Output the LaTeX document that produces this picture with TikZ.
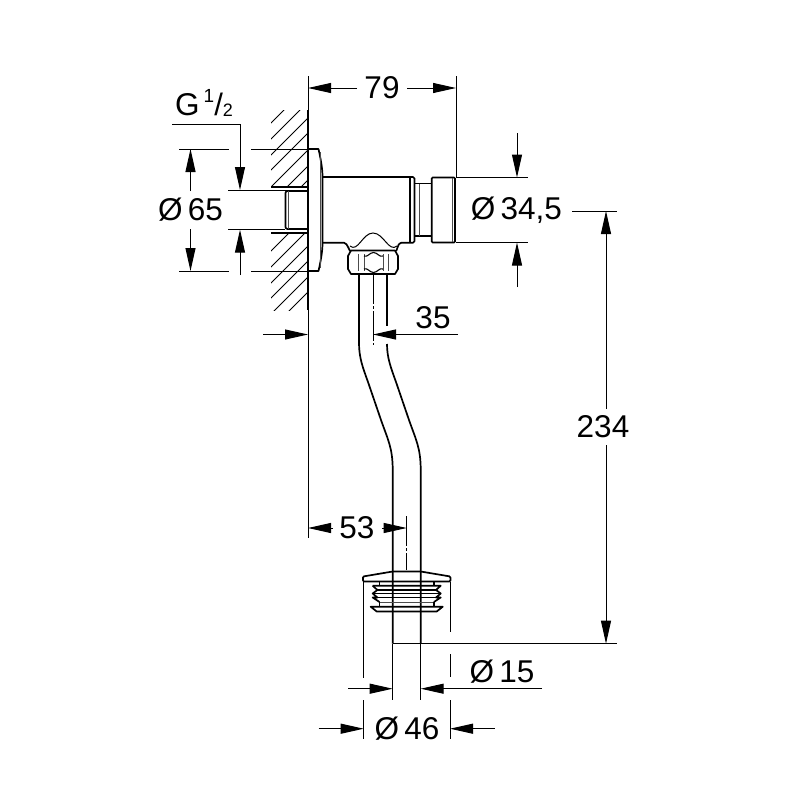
\documentclass[tikz,border=0pt]{standalone}
\usepackage{fontspec}
\setmainfont{Liberation Sans}
\usetikzlibrary{arrows.meta}

\begin{document}
\begin{tikzpicture}[x=1pt,y=-1pt,>={Triangle[length=23pt,width=10pt]}]
        \tikzset{part/.style={line width=1.7pt,line join=round},
        fine/.style={line width=0.9pt,black!70},
        dim/.style={line width=1pt},
        hatch/.style={line width=0.9pt},
        center/.style={line width=1pt,dash pattern=on 30pt off 2pt on 3pt off 2pt},
        lbl/.style={inner sep=0pt,font=\fontsize{31.5}{34}\selectfont},
        }
        \useasboundingbox (0,0) rectangle (800,800);
%%% wall
        \begin{scope}
        \clip (271,110) rectangle (308,187);
        \foreach \s in {394,410,426,441,458,474,488}
            \draw[hatch] (\s-320,320) -- (\s-100,100);
        \end{scope}
        \begin{scope}
        \clip (271,234) rectangle (308,310);
        \foreach \s in {522,538,554,569,585,600}
            \draw[hatch] (\s-320,320) -- (\s-220,220);
        \end{scope}
        \draw[line width=1.3pt] (308,110) -- (308,310);
        \draw[part] (271,187) -- (308,187) (271,233) -- (308,233);
%%% plate, body and knob
        \draw[part] (308,149) -- (318.5,149) .. controls (320.5,158) and (322.5,168) .. (322.5,177) -- (322.5,243) .. controls (322.5,252) and (320.5,262) .. (318.5,271) -- (308,271);
        \draw[fine] (320,152) -- (320,268);
        \draw[part,rounded corners=1.5pt] (322.5,177) -- (414.5,177) -- (414.5,242.7) -- (401,242.7);
        \draw[part] (322.5,242.7) -- (344,242.7) to[out=0,in=-100] (350.5,250);
        \draw[part] (401,242.7) to[out=180,in=-80] (396,250);
        \draw[line width=1.2pt] (410,177) -- (410,242.7);
        \draw[part] (415,183.5) -- (431.7,183.5) (415,236) -- (431.7,236);
        \draw[fine] (419,184) -- (419,236);
        \draw[part,rounded corners=1pt] (431.7,177.5) rectangle (455,242.5);
        \draw[fine] (452.5,178) -- (452.5,242);
%%% thread
        \draw[part,rounded corners=2pt] (308,191) -- (285.5,191) -- (285.5,229) -- (308,229);
        \draw[fine] (288.5,191) -- (288.5,229);
%%% nut
        \draw[line width=1pt] (350,246) to[out=-40,in=180] (373,233) to[out=0,in=-140] (397,246);
        \draw[part] (351,250.5) -- (395,250.5) -- (398,256) -- (398,269) -- (395,274) -- (351,274) -- (348,269) -- (348,256) -- cycle;
        \draw[fine] (358,254) -- (358,271) (364,254) -- (364,271) (383,254) -- (383,271) (388,254) -- (388,271);
        \draw[line width=1.1pt] (364,256) to[out=-25,in=180] (373.5,252.5) to[out=0,in=-155] (383,256);
        \draw[line width=1.1pt] (364,269) to[out=25,in=180] (373.5,272.5) to[out=0,in=155] (383,269);
%%% pipe
        \draw[part] (359,274) -- (359,343) .. controls (359,358) and (363,368) .. (368,382) -- (381,420) .. controls (388,440) and (392.7,448) .. (392.7,470) -- (392.7,643.7);
        \draw[part] (387,274) -- (387,326);
        \draw[part] (387,344) .. controls (387,358) and (391,368) .. (396,382) -- (409,420) .. controls (416,440) and (420.7,448) .. (420.7,470) -- (420.7,643.7);
        \draw[center] (373,274) -- (373,345);
        \draw[center] (406.7,516) -- (406.7,570);
%%% flange
        \draw[part,rounded corners=1pt] (363,581.5) -- (363,576.5) -- (392.7,571.5) -- (420.7,571.5) -- (450.4,576.5) -- (450.4,581.5) -- cycle;
        \draw[part] (379.5,582) -- (379.5,585.7) (433.9,582) -- (433.9,585.7);
        \draw[part] (372.7,585.7) -- (440.7,585.7) -- (436,590) -- (440.7,593.5) -- (436,597.5) -- (440.7,597.5) -- (433.9,602);
        \draw[part] (372.7,585.7) -- (377.4,590) -- (372.7,593.5) -- (377.4,597.5) -- (372.7,597.5) -- (379.5,602);
        \draw[part] (377.4,590) -- (436,590) (372.7,593.5) -- (440.7,593.5) (372.7,597.5) -- (440.7,597.5);
        \draw[fine] (379.5,602) -- (433.9,602);
        \draw[part] (379.5,602) -- (379.5,606.7) (433.9,602) -- (433.9,606.7);
        \draw[part] (370.7,606.7) -- (442.7,606.7) -- (436.7,611.5) -- (376.7,611.5) -- cycle;
%%% extension lines
        \draw[dim] (308,76) -- (308,538);
        \draw[dim] (456,76) -- (456,177.5);
        \draw[dim] (456,177.5) -- (528,177.5) (456,242.5) -- (528,242.5);
        \draw[dim] (179,149) -- (229,149) (251,149) -- (308,149);
        \draw[dim] (179,271) -- (229,271) (251,271) -- (308,271);
        \draw[dim] (228,190) -- (308,190) (228,229.7) -- (285,229.7);
        \draw[dim] (392.7,643.7) -- (617,643.7);
        \draw[dim] (572,211) -- (617,211);
        \draw[dim] (392.7,643.7) -- (392.7,700) (420.7,643.7) -- (420.7,700);
        \draw[dim] (363.7,582) -- (363.7,678) (363.7,700) -- (363.7,739);
        \draw[dim] (450,582) -- (450,632) (450,654) -- (450,677) (450,700) -- (450,739);
%%% labels
        \node[lbl] (w79) at (382,88) {79};
        \node[lbl] (d65) at (190.5,210) {Ø\,65};
        \node[lbl] (d345) at (516.5,210) {Ø\,34,5};
        \node[lbl] (l35) at (433,318) {35};
        \node[lbl] (h234) at (603,427) {234};
        \node[lbl] (l53) at (357,528) {53};
        \node[lbl] (d15) at (502,672) {Ø\,15};
        \node[lbl] (d46) at (407,729) {Ø\,46};
        \node[lbl,anchor=base west] (thr) at (175,115) {G\hspace{4pt}\raisebox{13pt}{\fontsize{19}{19}\selectfont 1}\raisebox{0pt}{\fontsize{31}{31}\selectfont /}\raisebox{-1pt}{\fontsize{18}{18}\selectfont 2}};
%%% dimension arrows
        \draw[dim,->] (357,88) -- (308,88);
        \draw[dim,->] (407,88) -- (456,88);
        \draw[dim,->] (190.5,191) -- (190.5,149);
        \draw[dim,->] (190.5,229) -- (190.5,271);
        \draw[dim,->] (172,124.7) -- (240,124.7) -- (240,190);
        \draw[dim,->] (240,275) -- (240,229.7);
        \draw[dim,->] (263,334.5) -- (308,334.5);
        \draw[dim,->] (458,334.5) -- (373,334.5);
        \draw[dim,->] (517,133) -- (517,177.5);
        \draw[dim,->] (517,287) -- (517,242.5);
        \draw[dim,->] (606,409) -- (606,211);
        \draw[dim,->] (606,445) -- (606,643.7);
        \draw[->,dim] (333,528) -- (308,528);
        \draw[->,dim] (382,528) -- (406.7,528);
        \draw[dim,->] (348,688.7) -- (392.7,688.7);
        \draw[dim,->] (542,688.7) -- (420.7,688.7);
        \draw[dim,->] (318.7,728.7) -- (363.7,728.7);
        \draw[dim,->] (494.7,728.7) -- (450,728.7);
\end{tikzpicture}
\end{document}
